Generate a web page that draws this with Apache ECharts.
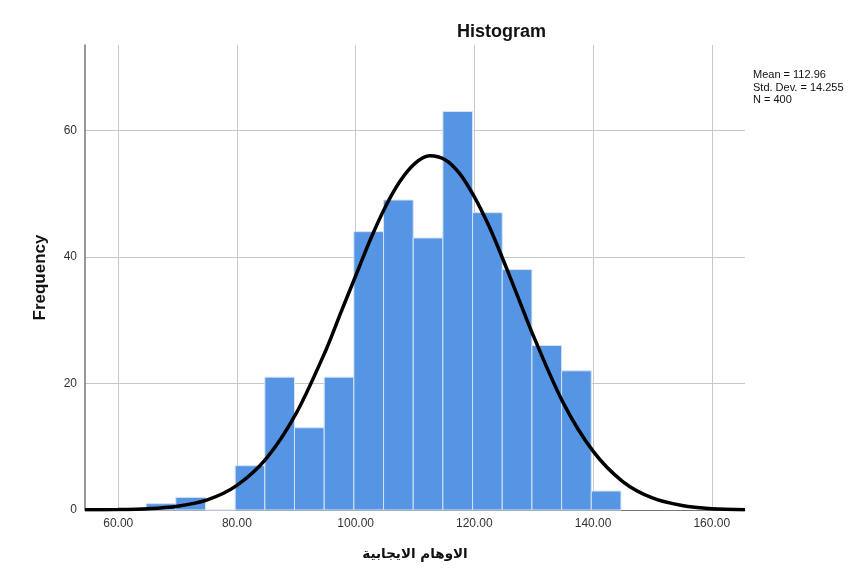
<!DOCTYPE html>
<html>
<head>
<meta charset="utf-8">
<script src="https://cdn.jsdelivr.net/npm/echarts@6/dist/echarts.min.js"></script>
<style>
  html, body { margin: 0; padding: 0; background: #fff; }
  #chart { width: 857px; height: 569px; }
</style>
</head>
<body>
<div id="chart"></div>
<script>
// histogram bins (start of each bin, width 5)
var binStarts = [64.7, 69.7, 74.7, 79.7, 84.7, 89.7, 94.7, 99.7, 104.7, 109.7, 114.7, 119.7, 124.7, 129.7, 134.7, 139.7]
var binWidth = 5
var counts = [1, 2, 0, 7, 21, 13, 21, 44, 49, 43, 63, 47, 38, 26, 22, 3]

// normal curve
var curveX = [54.4, 60, 65, 70, 75, 80, 85, 90, 95, 97.5, 100, 102.5, 105, 107.5, 110, 112.5, 115, 117.5, 120, 122.5, 125, 127.5, 130, 135, 140, 145, 150, 155, 160, 165.6]
var curveY = [0.02, 0.06, 0.2, 0.6, 1.6, 3.9, 8.2, 15.3, 25.3, 31.2, 37.0, 42.8, 47.9, 52.0, 54.8, 56.0, 55.4, 53.2, 49.5, 44.8, 39.2, 33.3, 27.4, 16.9, 9.3, 4.5, 1.9, 0.7, 0.2, 0.05]

var xTicks = [60, 80, 100, 120, 140, 160]
var yTicks = [0, 20, 40, 60]
var stats = ['Mean = 112.96', 'Std. Dev. = 14.255', 'N = 400']

var chart = echarts.init(document.getElementById('chart'))

var barData = binStarts.map(function (s, i) {
  return [s, s + binWidth, counts[i]]
})
var lineData = curveX.map(function (x, i) {
  return [x, curveY[i]]
})

chart.setOption({
  animation: false,
  backgroundColor: '#fff',
  textStyle: { fontFamily: 'Liberation Sans, Arial, sans-serif' },
  title: {
    text: 'Histogram',
    left: 452,
    top: 18,
    textStyle: { fontSize: 18, fontWeight: 'bold', color: '#111' }
  },
  graphic: [
    {
      type: 'text',
      left: 753,
      top: 69,
      style: {
        text: stats.join('\n'),
        font: '11px "Liberation Sans", Arial, sans-serif',
        lineHeight: 12.5,
        fill: '#111'
      }
    }
  ],
  grid: {
    left: 85,
    right: 112,
    top: 45,
    bottom: 59
  },
  xAxis: {
    type: 'value',
    min: 54.4,
    max: 165.6,
    name: 'الاوهام الايجابية',
    nameLocation: 'middle',
    nameGap: 37,
    nameTextStyle: {
      fontSize: 13.5,
      fontWeight: 'bold',
      color: '#111',
      fontFamily: 'DejaVu Sans, sans-serif'
    },
    axisLine: { lineStyle: { color: '#777', width: 1 } },
    axisTick: { show: false, customValues: xTicks },
    axisLabel: {
      color: '#333',
      fontSize: 12,
      margin: 8,
      customValues: xTicks,
      formatter: function (v) { return v.toFixed(2) }
    },
    splitLine: {
      show: true,
      lineStyle: { color: '#c8c8c8', width: 1 }
    }
  },
  yAxis: {
    type: 'value',
    min: 0,
    max: 73.5,
    name: 'Frequency',
    nameLocation: 'middle',
    nameGap: 36,
    nameTextStyle: { fontSize: 17, fontWeight: 'bold', color: '#111' },
    axisLine: { show: true, lineStyle: { color: '#777', width: 1.5 } },
    axisTick: { show: false, customValues: yTicks },
    axisLabel: {
      color: '#333',
      fontSize: 12,
      margin: 8,
      customValues: yTicks
    },
    splitLine: {
      show: true,
      lineStyle: { color: '#c8c8c8', width: 1 }
    }
  },
  series: [
    {
      type: 'custom',
      data: barData,
      encode: { x: [0, 1], y: 2 },
      renderItem: function (params, api) {
        var p0 = api.coord([api.value(0), api.value(2)])
        var p1 = api.coord([api.value(1), 0])
        return {
          type: 'rect',
          shape: { x: p0[0], y: p0[1], width: p1[0] - p0[0], height: p1[1] - p0[1] },
          style: { fill: '#5595e3', stroke: '#d6e4f6', lineWidth: 1 }
        }
      },
      z: 2
    },
    {
      type: 'line',
      data: lineData,
      smooth: 0.3,
      symbol: 'none',
      lineStyle: { color: '#000', width: 3.5 },
      z: 3
    }
  ]
})
</script>
</body>
</html>
